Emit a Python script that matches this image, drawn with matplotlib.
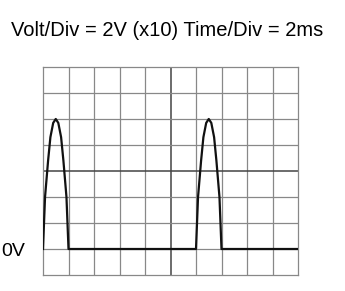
import numpy as np
import matplotlib.pyplot as plt

# screen settings
volt_per_div = 20.0   # 2V x10 probe
time_per_div = 2.0    # ms
n_xdiv = 10
n_ydiv = 8
ydiv_below_zero = 1

# one half-wave pulse (ms from pulse start, volts)
pulse_t = [0.0, 0.16, 0.40, 0.58, 0.80, 1.00, 1.20, 1.42, 1.60, 1.84, 2.0]
pulse_v = [0.0, 40.0, 68.0, 86.0, 97.0, 100.0, 97.0, 86.0, 68.0, 40.0, 0.0]
pulse_starts = [0.0, 12.0]   # ms
t_end = 20.0

tt, vv = [], []
for s in pulse_starts:
    tt += [s + t for t in pulse_t]
    vv += pulse_v
tt.append(t_end)
vv.append(0.0)

fig = plt.figure(figsize=(3.45, 2.91), dpi=100)
ax = fig.add_axes([43/345, 16/291, 255/345, 208/291])

xmax = n_xdiv * time_per_div
ymin = -ydiv_below_zero * volt_per_div
ymax = (n_ydiv - ydiv_below_zero) * volt_per_div
ax.set_xlim(0, xmax)
ax.set_ylim(ymin, ymax)

# graticule
for i in range(1, n_xdiv):
    x = i * time_per_div
    c = '#444444' if i == n_xdiv // 2 else '#888888'
    ax.axvline(x, color=c, lw=1.1 if i == n_xdiv // 2 else 0.9, zorder=1)
for j in range(1, n_ydiv):
    y = ymin + j * volt_per_div
    c = '#444444' if j == n_ydiv // 2 else '#888888'
    ax.axhline(y, color=c, lw=1.1 if j == n_ydiv // 2 else 0.9, zorder=1)
for sp in ax.spines.values():
    sp.set_color('#888888')
    sp.set_linewidth(0.9)

ax.plot(tt, vv, color='#111111', lw=1.6, zorder=3, solid_joinstyle='round')

ax.set_xticks([])
ax.set_yticks([])

fig.text(167/345, 1 - 31/291, 'Volt/Div = 2V (x10) Time/Div = 2ms',
         ha='center', va='center', fontsize=14.5, family='Liberation Sans')
fig.text(1/345, 1 - 252/291, '0V', ha='left', va='center',
         fontsize=14, family='Liberation Sans')

fig.savefig('out.png', dpi=100)
